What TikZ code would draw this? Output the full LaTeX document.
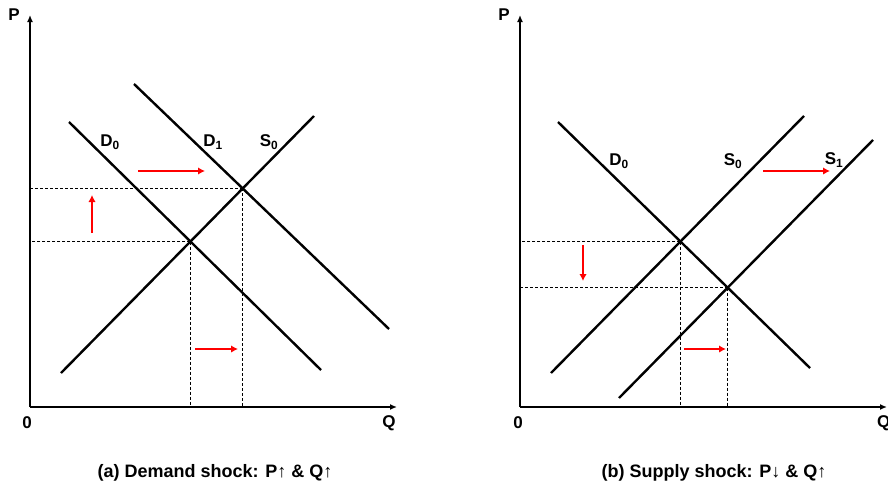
\documentclass[tikz,border=0pt]{standalone}
\usepackage{fontspec}
\setmainfont{Liberation Sans}
\usetikzlibrary{arrows.meta,positioning,calc,intersections}
\definecolor{ShockRed}{HTML}{FF0000}

\begin{document}
\begin{tikzpicture}[x=1pt,y=-1pt,
        every node/.style={font=\bfseries\fontsize{17}{19}\selectfont, inner sep=0pt},
        axis/.style={-{Latex[length=7pt,width=6pt]}, line width=2.3pt},
        curve/.style={line width=2.4pt},
        guide/.style={dash pattern=on 3pt off 2pt, line width=0.8pt},
        shiftarrow/.style={-{Latex[length=7pt,width=7.5pt]}, line width=2.6pt, draw=ShockRed},
        caption/.style={font=\bfseries\fontsize{18}{20}\selectfont}
    ]
    \useasboundingbox (0,0) rectangle (888,490);

    % (a) demand shock
    \coordinate (aO) at (30,407);
    \coordinate (aPtop) at (30,15);
    \coordinate (aQend) at (397,407);
    \draw[axis] (aO) -- (aPtop);
    \draw[axis] (aO) -- (aQend);
    \node (aP) at (14,15) {P};
    \node (azero) at (27,423) {0};
    \node (aQ) at (389,423) {Q};

    \draw[curve, name path=aD0] (69,122) -- (321,370);
    \draw[curve, name path=aD1] (134,84) -- (389,329);
    \draw[curve, name path=aS0] (61,373) -- (314,116);
    \path[name intersections={of=aD0 and aS0, by=aE0}];
    \path[name intersections={of=aD1 and aS0, by=aE1}];

    \draw[guide] (aE0) -- (aE0 -| aO);
    \draw[guide] (aE1) -- (aE1 -| aO);
    \draw[guide] (aE0) -- (aE0 |- aO);
    \draw[guide] (aE1) -- (aE1 |- aO);

    \node (aD0lab) at (110,142) {D\textsubscript{0}};
    \node (aD1lab) at (213,142) {D\textsubscript{1}};
    \node (aS0lab) at (269,142) {S\textsubscript{0}};

    \coordinate (aDs) at (138,171);
    \coordinate (aDe) at (205,171);
    \coordinate (aPs) at (92,233);
    \coordinate (aPe) at (92,195);
    \coordinate (aQs) at (195,349);
    \coordinate (aQe) at (238,349);
    \draw[shiftarrow] (aDs) -- (aDe);
    \draw[shiftarrow] (aPs) -- (aPe);
    \draw[shiftarrow] (aQs) -- (aQe);

    \node[caption] (acap) at (215,473) {(a) Demand shock: P↑ \& Q↑};

    % (b) supply shock
    \coordinate (bO) at (520,407);
    \coordinate (bPtop) at (520,15);
    \coordinate (bQend) at (887,407);
    \draw[axis] (bO) -- (bPtop);
    \draw[axis] (bO) -- (bQend);
    \node (bP) at (504,15) {P};
    \node (bzero) at (518,423) {0};
    \node[anchor=west] (bQ) at (877,423) {Q};

    \draw[curve, name path=bD0] (558,122) -- (810,368);
    \draw[curve, name path=bS0] (551,373) -- (804,116);
    \draw[curve, name path=bS1] (619,398) -- (873,140);
    \path[name intersections={of=bD0 and bS0, by=bE0}];
    \path[name intersections={of=bD0 and bS1, by=bE1}];

    \draw[guide] (bE0) -- (bE0 -| bO);
    \draw[guide] (bE1) -- (bE1 -| bO);
    \draw[guide] (bE0) -- (bE0 |- bO);
    \draw[guide] (bE1) -- (bE1 |- bO);

    \node (bD0lab) at (619,161) {D\textsubscript{0}};
    \node (bS0lab) at (733,161) {S\textsubscript{0}};
    \node (bS1lab) at (834,160) {S\textsubscript{1}};

    \coordinate (bSs) at (763,171);
    \coordinate (bSe) at (830,171);
    \coordinate (bPs) at (583,245);
    \coordinate (bPe) at (583,281);
    \coordinate (bQs) at (684,349);
    \coordinate (bQe) at (726,349);
    \draw[shiftarrow] (bSs) -- (bSe);
    \draw[shiftarrow] (bPs) -- (bPe);
    \draw[shiftarrow] (bQs) -- (bQe);

    \node[caption] (bcap) at (714,473) {(b) Supply shock: P↓ \& Q↑};
\end{tikzpicture}
\end{document}
